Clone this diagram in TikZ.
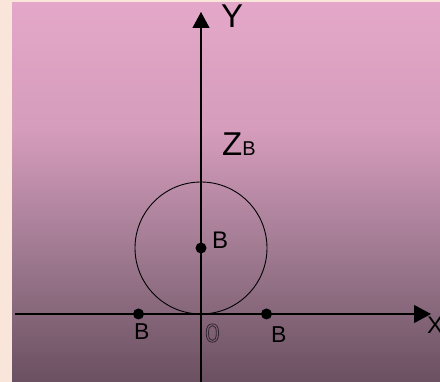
\documentclass[tikz,border=0pt]{standalone}
\usepackage{fontspec}
\setmainfont{Liberation Sans}
\usetikzlibrary{arrows.meta}
\definecolor{peach}{HTML}{F9E5D9}
\definecolor{bgA}{HTML}{E4A7C9}
\definecolor{bgB}{HTML}{D59CBB}
\definecolor{bgC}{HTML}{9E7990}
\definecolor{bgD}{HTML}{6A5060}
\tikzset{
  axisline/.style={line width=1.1pt},
  dotnode/.style={circle, fill=black, minimum size=11pt, inner sep=0pt},
  lbl/.style={anchor=base west, inner sep=0pt, text=black},
}
\begin{document}
\begin{tikzpicture}[x=1pt,y=-1pt]
\useasboundingbox (0,0) rectangle (440,382);
\fill[peach] (0,0) rectangle (440,382);
\shade[top color=bgA,bottom color=bgB] (12,3) rectangle (440,131);
\shade[top color=bgB,bottom color=bgC] (12,130) rectangle (440,256);
\shade[top color=bgC,bottom color=bgD] (12,255) rectangle (440,382);
\coordinate (xs) at (15,314);
\coordinate (xe) at (431,314);
\coordinate (ys) at (201,382);
\coordinate (ye) at (201,12);
\draw[axisline,-{Triangle[length=17pt,width=18pt]}] (xs) -- (xe);
\draw[axisline,-{Triangle[length=16pt,width=17pt]}] (ys) -- (ye);
\node[circle, draw, line width=0.9pt, minimum size=132pt, inner sep=0pt] (circ) at (201,248) {};
\node[dotnode] (b0) at (201,248) {};
\node[dotnode] (b1) at (138.5,314) {};
\node[dotnode] (b2) at (266.5,314) {};
\node[lbl, font=\fontsize{33}{33}\selectfont] (ylbl) at (221,28) {Y};
\node[lbl, font=\fontsize{24}{24}\selectfont] (xlbl) at (427,334) {X};
\node[lbl] (zb) at (222,156) {\fontsize{33}{33}\selectfont Z\fontsize{20}{20}\selectfont B};
\node[lbl, font=\fontsize{24}{24}\selectfont] (lb0) at (212,249) {B};
\node[lbl, font=\fontsize{23}{23}\selectfont] (lb1) at (134,340) {B};
\node[lbl, font=\fontsize{23}{23}\selectfont] (lb2) at (271,343) {B};
\node[lbl, font=\fontsize{26}{26}\selectfont] (org) at (205,342) {\special{pdf:literal direct 1 Tr 0.8 w 0.2 0.15 0.2 RG}0\special{pdf:literal direct 0 Tr}};
\end{tikzpicture}
\end{document}
